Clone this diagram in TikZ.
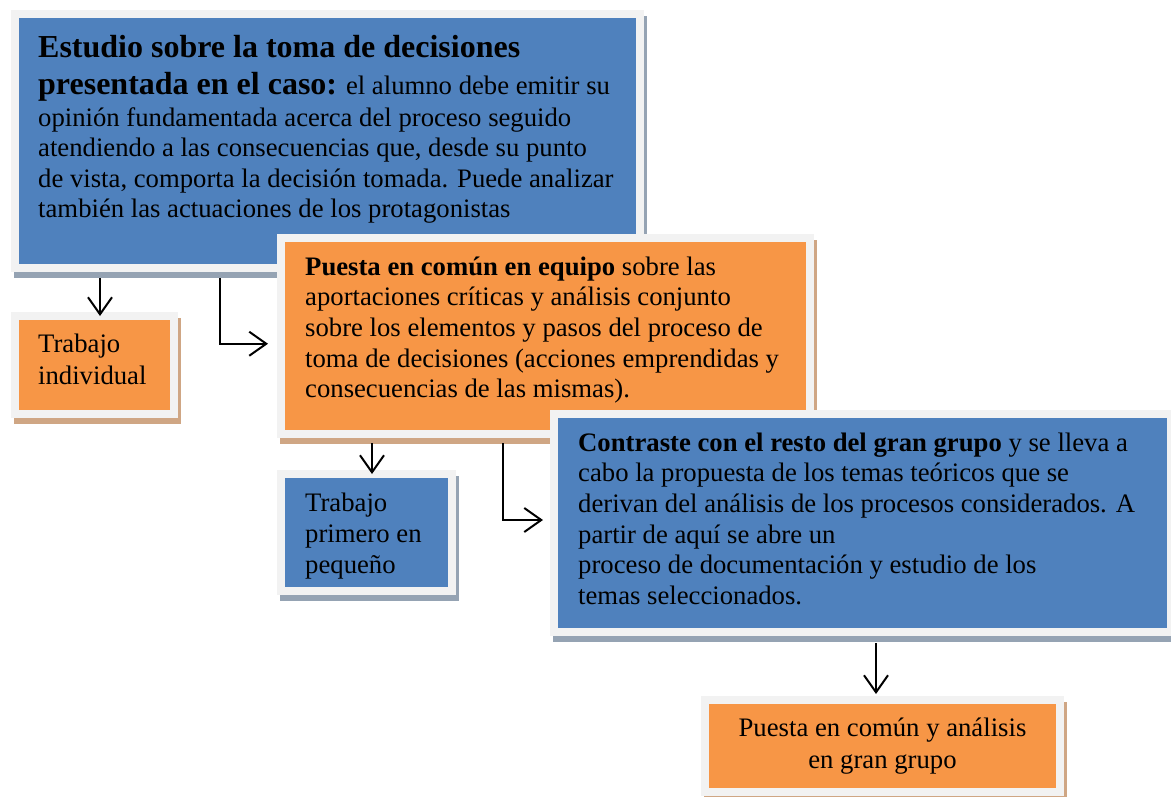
\documentclass[tikz,border=0pt]{standalone}
\usepackage{fontspec}
\setmainfont{Liberation Serif}
\usetikzlibrary{arrows.meta,shadows}
\definecolor{boxblue}{RGB}{79,129,189}
\definecolor{boxorange}{RGB}{247,150,70}
\definecolor{framegray}{RGB}{242,242,242}
\definecolor{blueshade}{RGB}{149,163,179}
\definecolor{orangeshade}{RGB}{207,166,132}
\newcommand{\bodyfont}{\fontsize{26.7}{30.6}\selectfont}
\newcommand{\headfont}{\fontsize{32}{36.8}\selectfont\bfseries}
\begin{document}
\begin{tikzpicture}[x=1pt, y=-1pt,
    box/.style={draw=framegray, line width=8pt, inner sep=0pt, outer sep=0pt, anchor=north west},
    bluebox/.style={box, fill=boxblue, drop shadow={shadow xshift=3pt, shadow yshift=-6pt, opacity=1, fill=blueshade, draw=blueshade, line width=8pt}},
    orangebox/.style={box, fill=boxorange, drop shadow={shadow xshift=3pt, shadow yshift=-6pt, opacity=1, fill=orangeshade, draw=orangeshade, line width=8pt}},
    boxtext/.style={anchor=north west, inner sep=0pt, align=left, font=\bodyfont},
    arr/.style={-{Straight Barb[length=17pt, width=24pt]}, line width=2pt}]
  \useasboundingbox (0,0) rectangle (1171,796);
  % Case study box
  \node[bluebox, minimum width=624.5pt, minimum height=254pt] (estudio) at (15,14) {};
  \node[boxtext] (estudiotext) at (38,31.3) {\rule{0pt}{26pt}{\headfont Estudio sobre la toma de decisiones}\\[6pt]
    {\headfont presentada en el caso:} el alumno debe emitir su\\[1.3pt]
    opinión fundamentada acerca del proceso seguido\\
    atendiendo a las consecuencias que, desde su punto\\
    de vista, comporta la decisión tomada. Puede analizar\\
    también las actuaciones de los protagonistas};
  \node[orangebox, minimum width=158.5pt, minimum height=98pt] (individual) at (15,316) {};
  \node[boxtext] (individualtext) at (38,328.7) {\rule{0pt}{24pt}Trabajo\\[1pt] individual};
  % Team box
  \node[orangebox, minimum width=528.5pt, minimum height=196.5pt] (equipo) at (281,237.5) {};
  \node[boxtext] (equipotext) at (305,251) {\rule{0pt}{24pt}\textbf{Puesta en común en equipo} sobre las\\
    aportaciones críticas y análisis conjunto\\
    sobre los elementos y pasos del proceso de\\
    toma de decisiones (acciones emprendidas y\\
    consecuencias de las mismas).};
  \node[bluebox, minimum width=171pt, minimum height=117pt] (primero) at (281,474) {};
  \node[boxtext] (primerotext) at (305,487.7) {\rule{0pt}{24pt}Trabajo\\ primero en\\ pequeño};
  % Large group box
  \node[bluebox, minimum width=617pt, minimum height=218pt] (contraste) at (554,414) {};
  \node[boxtext] (contrastetext) at (578,427) {\rule{0pt}{24pt}\textbf{Contraste con el resto del gran grupo} y se lleva a\\
    cabo la propuesta de los temas teóricos que se\\
    derivan del análisis de los procesos considerados. A\\
    partir de aquí se abre un\\
    proceso de documentación y estudio de los\\
    temas seleccionados.};
  \node[orangebox, minimum width=354.5pt, minimum height=92pt] (final) at (705,700) {};
  \node[boxtext, anchor=north, align=center] (finaltext) at (882.5,712.7) {\rule{0pt}{24pt}Puesta en común y análisis\\[1pt] en gran grupo};
  % Arrows
  \coordinate (a1) at ([shift={(85,10)}]estudio.south west);
  \coordinate (a2) at ([shift={(205,10)}]estudio.south west);
  \coordinate (a3) at ([shift={(91,9)}]equipo.south west);
  \coordinate (a4) at ([shift={(222,9)}]equipo.south west);
  \coordinate (a5) at ([shift={(322,11)}]contraste.south west);
  \draw[arr] (a1) -- (a1 |- individual.north);
  \draw[arr] (a2) |- ([shift={(-13,8)}]equipo.west);
  \draw[arr] (a3) -- (a3 |- primero.north);
  \draw[arr] (a4) |- ([shift={(-11,-3)}]contraste.west);
  \draw[arr, shorten >=6pt] (a5) -- (a5 |- final.north);
\end{tikzpicture}
\end{document}
